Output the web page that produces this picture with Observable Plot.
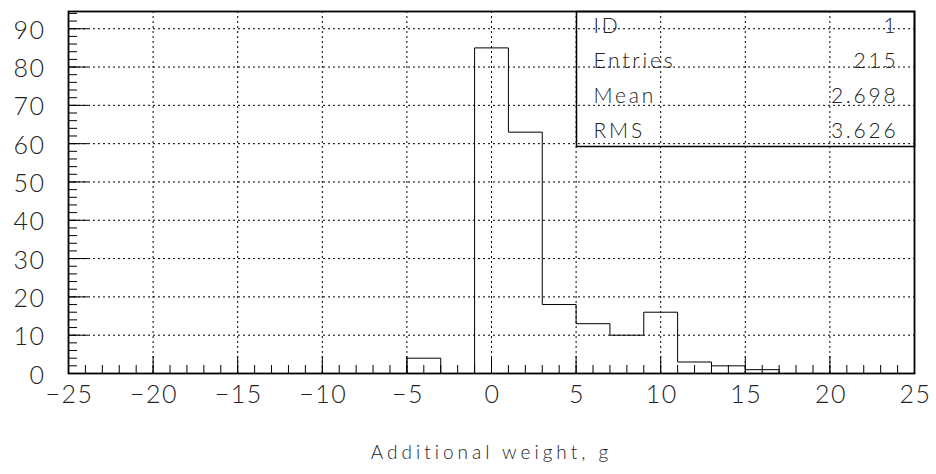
<!DOCTYPE html>
<html>
<head>
<meta charset="utf-8">
<script src="https://cdn.jsdelivr.net/npm/d3@7"></script>
<script src="https://cdn.jsdelivr.net/npm/@observablehq/plot@0.6"></script>
<style>
  html, body { margin: 0; padding: 0; background: #fff; }
  #chart svg { display: block; font-family: Lato, "DejaVu Sans", sans-serif; font-weight: 300; }
  .ticklab text { letter-spacing: 1.5px; }
  .stat text { letter-spacing: 2.8px; }
  .xlabel text { letter-spacing: 4px; }
</style>
</head>
<body>
<div id="chart"></div>
<script>
// Histogram: bins of width 2 from -25 to 25
const binEdgesStart = -25;
const binWidth = 2;
const counts = [0,0,0,0,0,0,0,0,0,0, 4,0, 85,63,18,13,10,16,3,2,1, 0,0,0,0];

// Axis ticks
const xMajorTicks = [-25,-20,-15,-10,-5,0,5,10,15,20,25];
const xGridTicks = [-20,-15,-10,-5,0,5,10,15,20];
const yMajorTicks = [0,10,20,30,40,50,60,70,80,90];
const yGridTicks = [10,20,30,40,50,60,70,80,90];
const xMinorTicks = d3.range(-25, 26, 1);
const yMinorTicks = d3.range(0, 95, 2);

// Stats box
const statLabels = ["ID","Entries","Mean","RMS"];
const statValues = ["1","215","2.698","3.626"];

const xLabel = "Additional weight, g";

const W = 936, H = 474;
const mL = 68, mR = 22, mT = 11, mB = 101;
const fw = W - mL - mR, fh = H - mT - mB;

const pts = counts.map((c, i) => ({x: binEdgesStart + i * binWidth, y: c}));
pts.push({x: binEdgesStart + counts.length * binWidth, y: 0});

const fmt = d => (d < 0 ? "\u2212" + Math.abs(d) : String(d));

const statMarks = [];
statLabels.forEach((l, i) => {
  statMarks.push(Plot.text([l], {frameAnchor: "top-left", text: d => d, dx: 525, dy: 15 + i * 35, textAnchor: "start", lineAnchor: "middle", fontSize: 21, fill: "#222", className: "stat"}));
  statMarks.push(Plot.text([statValues[i]], {frameAnchor: "top-right", text: d => d, dx: -16, dy: 15 + i * 35, textAnchor: "end", lineAnchor: "middle", fontSize: 21, fill: "#222", className: "stat"}));
});

const chart = Plot.plot({
  width: W, height: H,
  marginLeft: mL, marginRight: mR, marginTop: mT, marginBottom: mB,
  x: {domain: [-25, 25], axis: null},
  y: {domain: [0, 94.5], axis: null},
  marks: [
    Plot.ruleX(xGridTicks, {x: d => d, stroke: "#000", strokeWidth: 1, strokeDasharray: "2,3"}),
    Plot.ruleY(yGridTicks, {y: d => d, stroke: "#000", strokeWidth: 1, strokeDasharray: "2,3"}),
    Plot.ruleX(xMinorTicks, {x: d => d, insetTop: fh - 8, stroke: "#000", strokeWidth: 1}),
    Plot.ruleX(xMajorTicks, {x: d => d, insetTop: fh - 17, stroke: "#000", strokeWidth: 1}),
    Plot.ruleY(yMinorTicks, {y: d => d, insetRight: fw - 9, stroke: "#000", strokeWidth: 1}),
    Plot.ruleY(yMajorTicks, {y: d => d, insetRight: fw - 20, stroke: "#000", strokeWidth: 1}),
    Plot.line(pts, {x: "x", y: "y", curve: "step-after", stroke: "#000", strokeWidth: 1}),
    Plot.frame({insetLeft: 508, insetBottom: 227, stroke: "#000", strokeWidth: 1.5}),
    Plot.frame({stroke: "#000", strokeWidth: 1.8}),
    Plot.text(xMajorTicks, {x: d => d, text: fmt, frameAnchor: "bottom", dx: 1, dy: 21, lineAnchor: "middle", textAnchor: "middle", fontSize: 25, fill: "#222", className: "ticklab"}),
    Plot.text(yMajorTicks, {y: d => d, text: fmt, frameAnchor: "left", dx: -23, dy: 2, lineAnchor: "middle", textAnchor: "end", fontSize: 25, fill: "#222", className: "ticklab"}),
    ...statMarks,
    Plot.text([xLabel], {frameAnchor: "bottom", text: d => d, dy: 79, lineAnchor: "middle", textAnchor: "middle", fontSize: 19, fill: "#222", className: "xlabel"})
  ]
});
document.getElementById("chart").appendChild(chart);
</script>
</body>
</html>
